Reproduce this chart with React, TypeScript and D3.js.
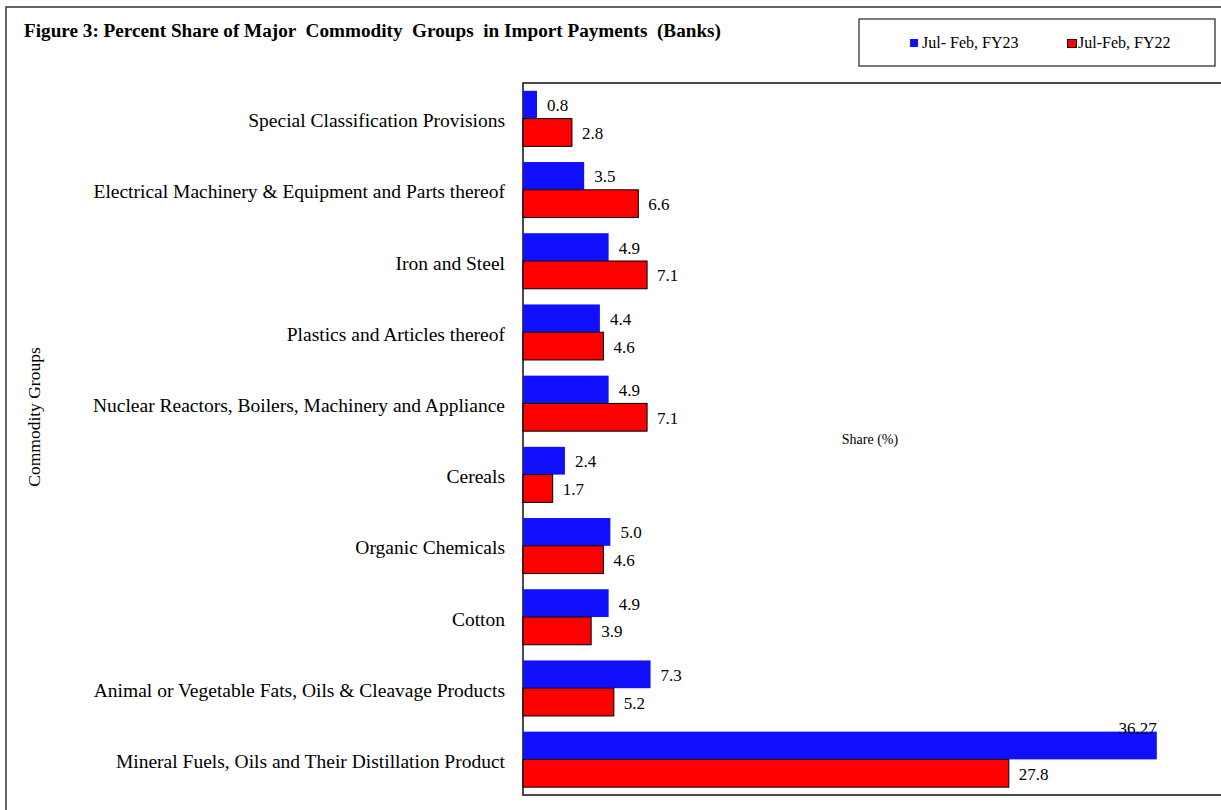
import React from "react";
import * as d3 from "d3";

const categories = [
  "Special Classification Provisions",
  "Electrical Machinery & Equipment and Parts thereof",
  "Iron and Steel",
  "Plastics and Articles thereof",
  "Nuclear Reactors, Boilers, Machinery and Appliance",
  "Cereals",
  "Organic Chemicals",
  "Cotton",
  "Animal or Vegetable Fats, Oils & Cleavage Products",
  "Mineral Fuels, Oils and Their Distillation Product",
];
const fy23 = [0.8, 3.5, 4.9, 4.4, 4.9, 2.4, 5.0, 4.9, 7.3, 36.27];
const fy22 = [2.8, 6.6, 7.1, 4.6, 7.1, 1.7, 4.6, 3.9, 5.2, 27.8];
const seriesNames = ["Jul- Feb, FY23", "Jul-Feb, FY22"];
const colors = ["#1010FF", "#FF0000"];

const W = 1221;
const H = 810;
const PLOT = { left: 523, top: 83, right: 1222, bottom: 795 };
const FONT = "'Liberation Serif', 'Times New Roman', serif";

const fmt = (v: number) => (Math.round(v * 10) === v * 10 ? v.toFixed(1) : String(v));

export default function App() {
  const x = d3.scaleLinear().domain([0, 40]).range([PLOT.left, PLOT.right]);
  const y = d3.scaleBand().domain(categories).range([PLOT.top, PLOT.bottom]).paddingInner(0.22).paddingOuter(0.11);
  const sub = d3.scaleBand().domain(seriesNames).range([0, y.bandwidth()]);
  const series = [fy23, fy22];
  const maxV = d3.max(fy23.concat(fy22)) as number;

  return (
    <div style={{ position: "absolute", left: 0, top: 0 }}>
      <svg width={W} height={H} style={{ display: "block", fontFamily: FONT }}>
        <rect x={0} y={0} width={W} height={H} fill="#fff" />
        {/* outer frame */}
        <rect x={6} y={7} width={W + 10} height={H + 10} fill="none" stroke="#333" strokeWidth={1.5} />
        <text x={24} y={37} fontSize={19.2} fontWeight="bold" style={{ whiteSpace: "pre" }}>
          {"Figure 3: Percent Share of Major  Commodity  Groups  in Import Payments  (Banks)"}
        </text>

        {/* legend */}
        <rect x={859} y={19} width={356} height={47} fill="#fff" stroke="#222" strokeWidth={1.2} />
        <rect x={910} y={39} width={8} height={8} fill={colors[0]} />
        <text x={922} y={48} fontSize={16}>{seriesNames[0]}</text>
        <rect x={1067.5} y={39.5} width={9} height={8} fill={colors[1]} stroke="#000" strokeWidth={1} />
        <text x={1078} y={48} fontSize={16}>{seriesNames[1]}</text>

        {/* plot area */}
        <rect x={PLOT.left} y={PLOT.top} width={PLOT.right - PLOT.left} height={PLOT.bottom - PLOT.top}
          fill="none" stroke="#111" strokeWidth={1.5} />

        {categories.map((c, i) => {
          const y0 = y(c) as number;
          return (
            <g key={c}>
              <text x={505} y={y0 + y.bandwidth() / 2 + 2} fontSize={19.5} textAnchor="end" dominantBaseline="central">{c}</text>
              {series.map((s, k) => {
                const v = s[i];
                const by = y0 + (sub(seriesNames[k]) as number);
                const bh = sub.bandwidth();
                const isMax = v === maxV;
                return (
                  <g key={k}>
                    <rect x={x(0)} y={by} width={x(v) - x(0)} height={bh} fill={colors[k]}
                      stroke={k === 1 ? "#000" : "none"} strokeWidth={1} />
                    {isMax ? (
                      <text x={x(v)} y={by + 2} fontSize={17} textAnchor="end">{fmt(v)}</text>
                    ) : (
                      <text x={x(v) + 10} y={by + bh / 2 + 1} fontSize={17} dominantBaseline="central">{fmt(v)}</text>
                    )}
                  </g>
                );
              })}
            </g>
          );
        })}

        <text x={870} y={439} fontSize={14} textAnchor="middle" dominantBaseline="central">Share (%)</text>
        <text transform="translate(34,417) rotate(-90)" fontSize={17.5} textAnchor="middle" dominantBaseline="central">
          Commodity Groups
        </text>
      </svg>
    </div>
  );
}
